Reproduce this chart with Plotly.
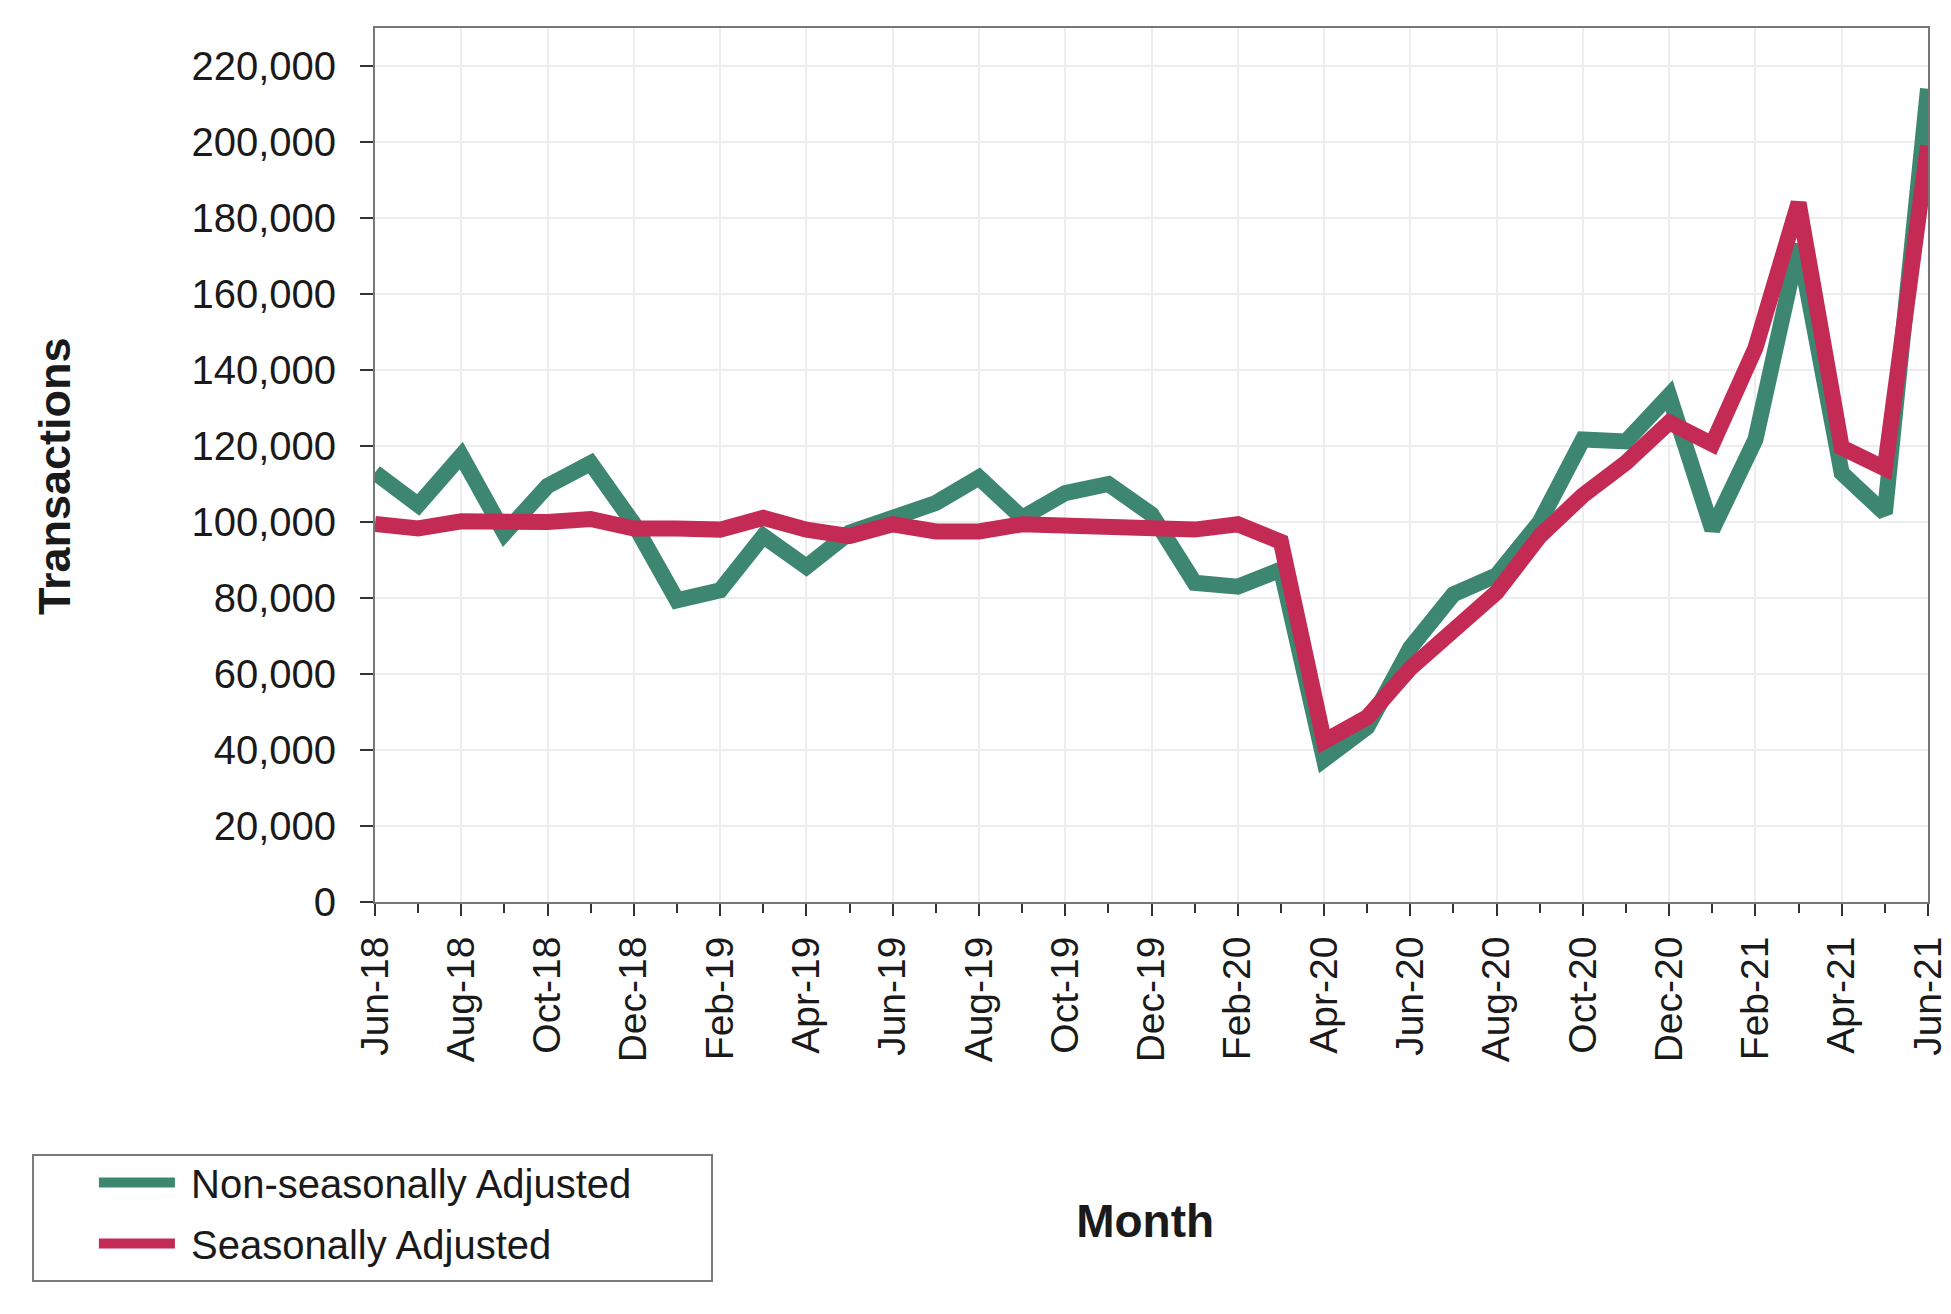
import plotly.graph_objects as go

months = ["Jun-18", "Jul-18", "Aug-18", "Sep-18", "Oct-18", "Nov-18", "Dec-18",
          "Jan-19", "Feb-19", "Mar-19", "Apr-19", "May-19", "Jun-19", "Jul-19",
          "Aug-19", "Sep-19", "Oct-19", "Nov-19", "Dec-19", "Jan-20", "Feb-20",
          "Mar-20", "Apr-20", "May-20", "Jun-20", "Jul-20", "Aug-20", "Sep-20",
          "Oct-20", "Nov-20", "Dec-20", "Jan-21", "Feb-21", "Mar-21", "Apr-21",
          "May-21", "Jun-21"]

non_seasonal = [113000, 104500, 117500, 97000, 109500, 115500, 99500,
                79400, 82000, 96300, 88200, 97200, 101100, 105000,
                111700, 101100, 107600, 110000, 102000, 84000, 83000,
                87500, 37500, 46000, 66900, 81000, 86000, 100000,
                121700, 121200, 133300, 98000, 121700, 173000, 112900,
                102300, 214000]

seasonal = [99500, 98300, 100200, 99800, 100000, 100800, 98300,
            98300, 98000, 101100, 98000, 96300, 99400, 97500,
            97500, 99400, 99000, 98800, 98800, 98000, 99400,
            94800, 42300, 48600, 61500, 71000, 81500, 96300,
            107000, 115600, 126200, 120500, 145800, 184000, 119600,
            114100, 199000]

y_ticks = [0, 20000, 40000, 60000, 80000, 100000, 120000, 140000,
           160000, 180000, 200000, 220000]

x_idx = list(range(len(months)))

GREEN = "#3d8771"
RED = "#c32b55"
FONT = "Liberation Sans, Arial, sans-serif"
TXT = "#1a1a1a"

fig = go.Figure()
fig.add_trace(go.Scatter(x=x_idx, y=non_seasonal, mode="lines",
                         name="\u00a0Non-seasonally Adjusted", legendgroup="a",
                         line=dict(color=GREEN, width=16)))
fig.add_trace(go.Scatter(x=x_idx, y=seasonal, mode="lines",
                         name="\u00a0Seasonally Adjusted", legendgroup="b",
                         line=dict(color=RED, width=16)))

fig.update_layout(
    width=1951, height=1314,
    margin=dict(l=367, r=31, t=20, b=420),
    paper_bgcolor="white", plot_bgcolor="white",
    font=dict(family=FONT, size=38, color=TXT),
    showlegend=True,
    legend=dict(
        x=-0.181, y=-0.2838, xanchor="left", yanchor="top",
        borderwidth=0, bgcolor="rgba(0,0,0,0)",
        font=dict(size=40, family=FONT, color=TXT),
        itemwidth=76, traceorder="grouped", tracegroupgap=6,
    ),
    shapes=[dict(type="rect", xref="paper", yref="paper",
                 x0=-0.2202, x1=0.217, y0=-0.4336, y1=-0.2895,
                 line=dict(color="#7a7a7a", width=2), fillcolor="rgba(0,0,0,0)",
                 layer="below")],
)

fig.update_xaxes(
    range=[0, len(months) - 1],
    tickmode="array", tickvals=x_idx[::2], ticktext=months[::2],
    tickangle=-90, tickfont=dict(size=39, family=FONT, color=TXT),
    ticks="outside", ticklen=12, tickcolor="#333", tickwidth=2,
    ticklabelstandoff=5,
    minor=dict(dtick=1, tick0=0, ticks="outside", ticklen=9, tickcolor="#333",
               tickwidth=2, showgrid=False),
    showgrid=True, gridcolor="#ededed", gridwidth=1.5,
    showline=True, linecolor="#777777", linewidth=2, mirror=True,
    zeroline=False, automargin=False,
    title=dict(text="<b>Month\u00a0</b>", font=dict(size=46, family=FONT, color=TXT), standoff=143),
)
fig.update_yaxes(
    range=[0, 230000],
    tickmode="array", tickvals=y_ticks, tickformat=",d",
    tickfont=dict(size=40, family=FONT, color=TXT),
    ticks="outside", ticklen=13, tickcolor="#333", tickwidth=2,
    ticklabelstandoff=16,
    showgrid=True, gridcolor="#ededed", gridwidth=1.5,
    showline=True, linecolor="#777777", linewidth=2, mirror=True,
    zeroline=False, automargin=False,
    title=dict(text="<b>Transactions\u2002</b>", font=dict(size=45, family=FONT, color=TXT), standoff=107),
)

fig.write_html("out.html")
